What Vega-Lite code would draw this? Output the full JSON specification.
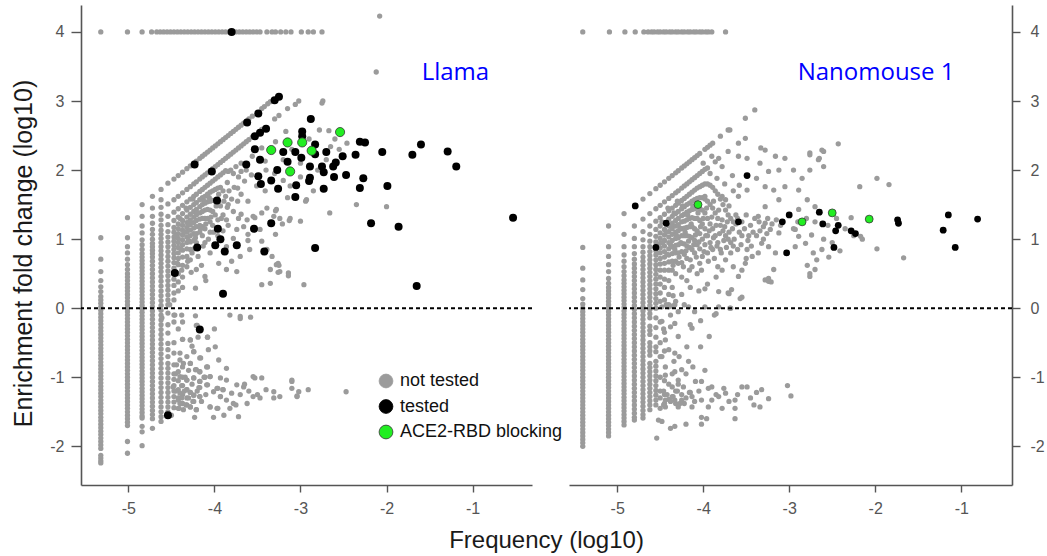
{
"$schema": "https://vega.github.io/schema/vega-lite/v6.json",
"padding": {"left": 11, "top": 5, "right": 5, "bottom": 5},
"spacing": 37,
"bounds": "flush",
"resolve": {"scale": {"fill": "independent", "stroke": "independent"}},
"datasets": {
"ref": [{"y": 0}],
"lab": [{"p": "L", "x": -1.20, "y": 3.30, "t": "Llama"}, {"p": "N", "x": -1.99, "y": 3.31, "t": "Nanomouse 1"}],
"hr": [
{"p": "L", "y": 4, "x": [-5.32,-5.01,-4.84,-4.73,-4.67,-4.63,-4.59,-4.55,-4.51,-4.47,-4.43,-4.39,-4.35,-4.31,-4.27,-4.23,-4.19,-4.15,-4.11,-4.07,-4.03,-3.99,-3.95,-3.91,-3.87,-3.83,-3.75,-3.71,-3.67,-3.63,-3.59,-3.55,-3.51,-3.47,-3.39,-3.33,-3.29,-3.23,-3.17,-3.11,-2.99,-2.91,-2.85,-2.75]},
{"p": "N", "y": 4, "x": [-5.40,-5.09,-4.91,-4.79,-4.69,-4.64,-4.60,-4.57,-4.53,-4.50,-4.46,-4.43,-4.39,-4.36,-4.32,-4.29,-4.25,-4.22,-4.18,-4.15,-4.11,-4.08,-4.04,-4.01,-3.97,-3.94,-3.90,-3.74]}
],
"vc": [
{"p":"L","x":-5.32,"y":[1.02,0.71,0.53,0.40,0.31,0.24,0.17,0.12,0.07,0.02,-0.03,-0.08,-0.13,-0.18,-0.23,-0.28,-0.33,-0.38,-0.43,-0.48,-0.53,-0.58,-0.63,-0.68,-0.73,-0.78,-0.83,-0.88,-0.93,-0.98,-1.03,-1.08,-1.13,-1.18,-1.23,-1.28,-1.33,-1.38,-1.43,-1.48,-1.53,-1.58,-1.63,-1.68,-1.73,-1.78,-1.83,-1.88,-1.93,-1.98,-2.03,-2.13,-2.17,-2.21,-2.24]},
{"p":"L","x":-5.01,"y":[1.31,1.02,0.89,0.80,0.71,0.63,0.56,0.50,0.45,0.40,0.35,0.30,0.25,0.20,0.15,0.10,0.05,0.0,-0.05,-0.10,-0.15,-0.20,-0.25,-0.30,-0.35,-0.40,-0.45,-0.50,-0.55,-0.60,-0.65,-0.70,-0.75,-0.80,-0.85,-0.90,-0.95,-1.00,-1.05,-1.10,-1.15,-1.20,-1.25,-1.30,-1.35,-1.40,-1.45,-1.50,-1.55,-1.60,-1.65,-1.70,-1.93,-2.10]},
{"p":"L","x":-4.84,"y":[1.50,1.33,1.19,1.09,0.99,0.92,0.85,0.79,0.74,0.69,0.64,0.59,0.54,0.49,0.44,0.39,0.34,0.29,0.24,0.19,0.14,0.09,0.04,-0.01,-0.06,-0.11,-0.16,-0.21,-0.26,-0.31,-0.36,-0.41,-0.46,-0.51,-0.56,-0.61,-0.66,-0.71,-0.76,-0.81,-0.86,-0.91,-0.96,-1.01,-1.06,-1.11,-1.16,-1.21,-1.26,-1.31,-1.36,-1.41,-1.46,-1.51,-1.56,-1.59,-1.71,-1.79,-1.99]},
{"p":"L","x":-4.72,"y":[1.62,1.45,1.33,1.23,1.14,1.07,1.00,0.94,0.89,0.84,0.79,0.74,0.68,0.62,0.56,0.50,0.44,0.38,0.32,0.26,0.20,0.14,0.08,0.02,-0.04,-0.10,-0.16,-0.22,-0.28,-0.34,-0.40,-0.46,-0.52,-0.58,-0.64,-0.70,-0.76,-0.82,-0.88,-0.94,-1.00,-1.06,-1.12,-1.18,-1.24,-1.30,-1.36,-1.42,-1.48,-1.54,-1.60,-1.74]},
{"p":"L","x":-4.62,"y":[1.72,1.57,1.46,1.36,1.28,1.20,1.13,1.07,1.01,0.95,0.89,0.83,0.77,0.71,0.65,0.59,0.53,0.46,0.39,0.32,0.25,0.18,0.11,0.04,-0.03,-0.10,-0.17,-0.24,-0.31,-0.38,-0.45,-0.52,-0.59,-0.66,-0.73,-0.80,-0.87,-0.94,-1.01,-1.08,-1.15,-1.22,-1.29,-1.36,-1.43,-1.50,-1.57,-1.64]},
{"p":"L","x":-4.54,"y":[1.81,1.51,1.33,1.21,1.11,1.03,0.96,0.89,0.82,0.75,0.68,0.61,0.54,0.47,0.40,0.33,0.26,0.19,0.12,0.05,-0.07,-0.24,-0.36,-0.51,-0.60,-0.70,-0.80,-0.87,-0.94,-1.01,-1.08,-1.15,-1.22,-1.29,-1.36,-1.43,-1.50]},
{"p":"L","x":-4.47,"y":[1.87,1.57,1.39,1.27,1.17,1.10,1.03,0.97,0.91,0.85,0.79,0.73,0.66,0.58,0.50,0.42,0.33,0.22,0.12,-0.10,-0.20,-0.50,-0.65,-0.82,-0.95,-1.03,-1.12,-1.20,-1.28,-1.36,-1.44]},
{"p":"L","x":-4.42,"y":[1.92,1.62,1.44,1.32,1.22,1.15,1.08,1.01,0.95,0.88,0.80,0.72,0.63,0.50,0.38,0.25,-0.30,-0.92,-1.05,-1.18,-1.30,-1.45]},
{"p":"L","x":-4.37,"y":[1.97,1.67,1.49,1.37,1.27,1.20,1.13,1.06,0.99,0.92,0.84,0.74,0.62,0.45,0.30,-0.20,-0.45,-0.85,-1.00,-1.12,-1.25,-1.38]},
{"p":"L","x":-4.32,"y":[2.02,1.72,1.54,1.42,1.32,1.24,1.17,1.10,1.03,0.95,0.86,0.75,0.60,-0.70,-1.04,-1.18,-1.30,-1.40]},
{"p":"L","x":-4.28,"y":[2.06,1.76,1.58,1.46,1.36,1.28,1.21,1.13,1.05,0.96,0.85,0.70,-0.46,-0.80,-1.22,-1.43]},
{"p":"L","x":-4.24,"y":[2.10,1.80,1.62,1.50,1.40,1.32,1.24,1.16,1.08,0.98,0.86,-0.63,-1.01,-1.26,-1.35]},
{"p":"L","x":-4.21,"y":[2.13,1.83,1.65,1.53,1.43,1.35,1.27,1.18,1.08,0.95,0.56,-0.25,-0.89,-1.47]},
{"p":"L","x":-4.17,"y":[2.17,1.87,1.69,1.57,1.47,1.38,1.29,1.20,1.10,-0.72,-0.92,-1.06,-1.15,-1.28]},
{"p":"L","x":-4.14,"y":[2.20,1.90,1.72,1.60,1.50,1.40,1.30,1.18,1.05]},
{"p":"L","x":-4.11,"y":[2.23,1.93,1.75,1.62,1.52,1.42,1.30,1.15,0.95,0.46,-1.00]},
{"p":"L","x":-4.08,"y":[2.26,1.96,1.78,1.65,1.54,1.43,1.30,-0.42,-0.85,-1.11]},
{"p":"L","x":-4.05,"y":[2.29,1.99,1.81,1.68,1.55,1.42,1.25,1.10,-0.99,-1.43]},
{"p":"L","x":-4.02,"y":[2.32,2.02,1.84,1.70,1.56,1.40,1.20]},
{"p":"L","x":-3.99,"y":[2.35,2.05,1.87,1.72,1.55,1.35,-0.56]},
{"p":"L","x":-3.96,"y":[2.38,2.08,1.90,1.74,1.52,1.28,1.05,-1.16,-1.45]},
{"p":"L","x":-3.93,"y":[2.41,2.11,1.93,1.75,1.48,-1.01,-1.28]},
{"p":"L","x":-3.90,"y":[2.44,2.14,1.96,1.70,1.35,1.12,-1.18]},
{"p":"L","x":-3.87,"y":[2.47,2.17,1.99,1.62]},
{"p":"L","x":-3.84,"y":[2.50,2.20,1.98,1.50,1.20]},
{"p":"L","x":-3.81,"y":[2.53,2.23,2.00]},
{"p":"L","x":-3.78,"y":[2.56,2.26,1.95,1.40]},
{"p":"L","x":-3.75,"y":[2.59,2.29,2.05]},
{"p":"L","x":-3.72,"y":[2.62,2.32,1.90,1.30]},
{"p":"L","x":-3.69,"y":[2.65,2.35,2.10]},
{"p":"L","x":-3.66,"y":[2.68,2.38]},
{"p":"L","x":-3.63,"y":[2.71,2.41,2.00]},
{"p":"L","x":-3.60,"y":[2.74,2.44]},
{"p":"L","x":-3.56,"y":[2.78,2.48,2.20]},
{"p":"N","x":-5.40,"y":[0.88,0.58,0.41,0.27,0.14,0.06,0.0,-0.05,-0.10,-0.15,-0.20,-0.25,-0.30,-0.35,-0.40,-0.45,-0.50,-0.55,-0.60,-0.65,-0.70,-0.75,-0.80,-0.85,-0.90,-0.95,-1.00,-1.05,-1.10,-1.15,-1.20,-1.25,-1.30,-1.35,-1.40,-1.45,-1.50,-1.55,-1.60,-1.65,-1.70,-1.75,-1.80,-1.85,-1.90,-1.95,-2.00]},
{"p":"N","x":-5.10,"y":[1.19,0.89,0.75,0.63,0.53,0.43,0.36,0.30,0.25,0.20,0.15,0.10,0.05,0.0,-0.05,-0.10,-0.15,-0.20,-0.25,-0.30,-0.35,-0.40,-0.45,-0.50,-0.55,-0.60,-0.65,-0.70,-0.75,-0.80,-0.85,-0.90,-0.95,-1.00,-1.05,-1.10,-1.15,-1.20,-1.25,-1.30,-1.35,-1.40,-1.45,-1.50,-1.55,-1.60,-1.65,-1.70,-1.75,-1.80,-1.85]},
{"p":"N","x":-4.92,"y":[1.37,1.07,0.89,0.77,0.68,0.60,0.53,0.47,0.41,0.36,0.31,0.26,0.21,0.16,0.11,0.06,0.01,-0.04,-0.09,-0.14,-0.19,-0.24,-0.29,-0.34,-0.39,-0.44,-0.49,-0.54,-0.59,-0.64,-0.69,-0.74,-0.79,-0.84,-0.89,-0.94,-0.99,-1.04,-1.09,-1.14,-1.19,-1.24,-1.29,-1.34,-1.39,-1.44,-1.49,-1.54,-1.59,-1.64,-1.69]},
{"p":"N","x":-4.80,"y":[1.19,1.01,0.89,0.79,0.71,0.64,0.58,0.52,0.46,0.40,0.34,0.28,0.22,0.16,0.10,0.04,-0.02,-0.08,-0.14,-0.20,-0.26,-0.32,-0.38,-0.44,-0.50,-0.56,-0.62,-0.68,-0.74,-0.80,-0.86,-0.92,-0.98,-1.04,-1.10,-1.16,-1.22,-1.28,-1.34,-1.40,-1.46,-1.52,-1.58,-1.62]},
{"p":"N","x":-4.70,"y":[1.58,1.29,1.11,0.99,0.89,0.81,0.74,0.68,0.62,0.56,0.50,0.44,0.38,0.32,0.26,0.20,0.14,0.08,0.02,-0.04,-0.10,-0.16,-0.22,-0.28,-0.34,-0.40,-0.46,-0.52,-0.58,-0.64,-0.70,-0.76,-0.82,-0.88,-0.94,-1.00,-1.06,-1.12,-1.18,-1.24,-1.30,-1.36,-1.42,-1.48,-1.54,-1.59]},
{"p":"N","x":-4.62,"y":[1.66,1.37,1.19,1.07,0.97,0.89,0.82,0.76,0.70,0.64,0.58,0.52,0.46,0.40,0.34,0.28,0.22,0.16,0.10,0.04,-0.02,-0.08,-0.14,-0.26,-0.32,-0.38,-0.50,-0.56,-0.62,-0.68,-0.80,-0.86,-0.92,-0.98,-1.04,-1.10,-1.16,-1.22,-1.28,-1.34,-1.40,-1.47]},
{"p":"N","x":-4.55,"y":[1.73,1.44,1.26,1.14,1.04,0.96,0.89,0.83,0.77,0.70,0.63,0.56,0.49,0.42,0.35,0.28,0.21,0.14,0.07,0.0,-0.14,-0.28,-0.42,-0.56,-0.63,-0.77,-0.84,-0.91,-0.98,-1.05,-1.12,-1.19,-1.26,-1.33,-1.40]},
{"p":"N","x":-4.50,"y":[1.78,1.49,1.31,1.19,1.09,1.01,0.94,0.87,0.80,0.72,0.64,0.55,0.45,0.35,0.22,0.10,-0.20,-0.50,-0.70,-1.00,-1.20,-1.30,-1.45]},
{"p":"N","x":-4.45,"y":[1.83,1.54,1.36,1.24,1.14,1.06,0.98,0.90,0.82,0.74,0.65,0.55,0.42,0.30,0.12,-0.35,-0.62,-1.05,-1.25,-1.38]},
{"p":"N","x":-4.40,"y":[1.88,1.59,1.41,1.29,1.19,1.11,1.03,0.95,0.86,0.77,0.67,0.55,0.40,0.20,0.05,-0.60,-1.10,-1.32]},
{"p":"N","x":-4.36,"y":[1.92,1.63,1.45,1.33,1.23,1.15,1.07,0.98,0.89,0.79,0.68,0.55,0.30,0.03,-0.95,-1.28]},
{"p":"N","x":-4.32,"y":[1.96,1.67,1.49,1.37,1.27,1.19,1.10,1.01,0.91,0.80,0.68,0.50,0.10,-1.20,-1.38]},
{"p":"N","x":-4.29,"y":[1.99,1.70,1.52,1.40,1.30,1.21,1.12,1.02,0.92,0.80,0.65,-0.05,-1.10]},
{"p":"N","x":-4.25,"y":[2.03,1.74,1.56,1.44,1.34,1.25,1.15,1.05,0.94,0.82,0.66,0.45,-1.25]},
{"p":"N","x":-4.22,"y":[2.06,1.77,1.59,1.47,1.36,1.26,1.16,1.05,0.93,0.78,0.05,-1.38]},
{"p":"N","x":-4.19,"y":[2.09,1.80,1.62,1.50,1.39,1.28,1.17,1.05,0.90,0.72,0.40]},
{"p":"N","x":-4.16,"y":[2.12,1.83,1.65,1.52,1.41,1.30,1.18,1.04,0.88,0.55,-1.22]},
{"p":"N","x":-4.13,"y":[2.15,1.86,1.68,1.55,1.43,1.31,1.18,1.02,0.85,0.60]},
{"p":"N","x":-4.10,"y":[2.18,1.89,1.71,1.57,1.44,1.30,1.15,0.98,0.80,-0.05,-1.35]},
{"p":"N","x":-4.07,"y":[2.21,1.92,1.74,1.59,1.45,1.30,1.12,0.92,0.50]},
{"p":"N","x":-4.04,"y":[2.24,1.95,1.76,1.60,1.44,1.27,1.08,0.86,0.65]},
{"p":"N","x":-4.01,"y":[1.98,1.78,1.60,1.42,1.22,1.00,0.75]},
{"p":"N","x":-3.98,"y":[2.30,2.01,1.80,1.58,1.38,1.15,0.92,0.28]},
{"p":"N","x":-3.95,"y":[2.33,2.03,1.80,1.55,1.30,1.05,0.80]},
{"p":"N","x":-3.92,"y":[2.36,1.78,1.50,1.22,0.95]},
{"p":"N","x":-3.89,"y":[2.39,1.75,1.45,1.15,0.85]},
{"p":"N","x":-3.86,"y":[2.12,1.70,1.38,1.05]},
{"p":"N","x":-3.83,"y":[1.65,1.30,0.95,0.60]},
{"p":"N","x":-3.80,"y":[2.49,1.58,1.20,0.85]},
{"p":"N","x":-3.77,"y":[1.50,1.12]},
{"p":"N","x":-3.74,"y":[1.42,1.05,0.70]},
{"p":"N","x":-3.71,"y":[2.58,1.35,1.00]},
{"p":"N","x":-3.68,"y":[1.30,0.95]},
{"p":"N","x":-3.65,"y":[1.25,0.90]},
{"p":"N","x":-3.62,"y":[1.22]}
],
"sc": [
{"p":"L","s":"n","x":-4.61,"y":-0.14},{"p":"L","s":"n","x":-4.46,"y":-0.10},{"p":"L","s":"n","x":-4.38,"y":-0.10},{"p":"L","s":"n","x":-4.22,"y":-0.11},{"p":"L","s":"n","x":-3.82,"y":-0.10},{"p":"L","s":"n","x":-3.70,"y":-0.15},{"p":"L","s":"n","x":-3.58,"y":-0.13},{"p":"L","s":"n","x":-4.28,"y":-0.46},{"p":"L","s":"n","x":-4.19,"y":-0.42},{"p":"L","s":"n","x":-4.08,"y":-0.42},
{"p":"L","s":"n","x":-4.07,"y":-0.60},{"p":"L","s":"n","x":-4.24,"y":-0.63},{"p":"L","s":"n","x":-4.16,"y":-0.72},{"p":"L","s":"n","x":-4.40,"y":-0.65},{"p":"L","s":"n","x":-4.44,"y":-0.82},{"p":"L","s":"n","x":-4.28,"y":-0.80},{"p":"L","s":"n","x":-4.22,"y":-0.89},{"p":"L","s":"n","x":-4.09,"y":-0.85},{"p":"L","s":"n","x":-3.86,"y":-0.87},{"p":"L","s":"n","x":-4.40,"y":-0.99},
{"p":"L","s":"n","x":-4.32,"y":-1.04},{"p":"L","s":"n","x":-4.24,"y":-1.01},{"p":"L","s":"n","x":-4.17,"y":-1.06},{"p":"L","s":"n","x":-4.09,"y":-1.11},{"p":"L","s":"n","x":-3.86,"y":-1.04},{"p":"L","s":"n","x":-3.74,"y":-1.11},{"p":"L","s":"n","x":-3.66,"y":-1.14},{"p":"L","s":"n","x":-3.53,"y":-1.01},{"p":"L","s":"n","x":-3.45,"y":-1.01},{"p":"L","s":"n","x":-3.31,"y":-1.21},
{"p":"L","s":"n","x":-3.24,"y":-1.28},{"p":"L","s":"n","x":-3.31,"y":-1.30},{"p":"L","s":"n","x":-3.10,"y":-1.06},{"p":"L","s":"n","x":-3.10,"y":-1.16},{"p":"L","s":"n","x":-3.02,"y":-1.21},{"p":"L","s":"n","x":-3.04,"y":-1.28},{"p":"L","s":"n","x":-2.91,"y":-1.18},{"p":"L","s":"n","x":-3.55,"y":-1.28},{"p":"L","s":"n","x":-3.47,"y":-1.30},{"p":"L","s":"n","x":-4.40,"y":-1.23},
{"p":"L","s":"n","x":-4.32,"y":-1.18},{"p":"L","s":"n","x":-4.24,"y":-1.26},{"p":"L","s":"n","x":-4.17,"y":-1.28},{"p":"L","s":"n","x":-4.01,"y":-1.21},{"p":"L","s":"n","x":-3.93,"y":-1.28},{"p":"L","s":"n","x":-3.86,"y":-1.33},{"p":"L","s":"n","x":-3.78,"y":-1.38},{"p":"L","s":"n","x":-4.40,"y":-1.38},{"p":"L","s":"n","x":-4.28,"y":-1.43},{"p":"L","s":"n","x":-4.21,"y":-1.47},
{"p":"L","s":"n","x":-4.05,"y":-1.43},{"p":"L","s":"n","x":-3.97,"y":-1.45},{"p":"L","s":"n","x":-3.82,"y":-1.45},{"p":"L","s":"n","x":-4.23,"y":-1.58},{"p":"L","s":"n","x":-4.01,"y":-1.58},{"p":"L","s":"n","x":-3.89,"y":-1.55},{"p":"L","s":"n","x":-3.72,"y":-1.57},{"p":"L","s":"n","x":-4.50,"y":-1.55},{"p":"L","s":"n","x":-4.17,"y":-0.92},{"p":"L","s":"n","x":-4.05,"y":-0.99},
{"p":"L","s":"n","x":-3.97,"y":-1.16},{"p":"L","s":"n","x":-3.90,"y":-1.18},{"p":"L","s":"n","x":-3.80,"y":-1.23},{"p":"L","s":"n","x":-4.48,"y":-1.14},{"p":"L","s":"n","x":-4.42,"y":-1.33},{"p":"L","s":"n","x":-4.36,"y":-1.47},{"p":"L","s":"n","x":-4.45,"y":-0.95},{"p":"L","s":"n","x":-4.38,"y":-1.12},{"p":"L","s":"n","x":-4.35,"y":-1.20},{"p":"L","s":"n","x":-4.30,"y":-1.30},
{"p":"L","s":"n","x":-4.26,"y":-1.10},{"p":"L","s":"n","x":-4.20,"y":-1.20},{"p":"L","s":"n","x":-4.15,"y":-1.35},{"p":"L","s":"n","x":-4.12,"y":-1.00},{"p":"L","s":"n","x":-4.10,"y":-1.25},{"p":"L","s":"n","x":-4.30,"y":-0.90},{"p":"L","s":"n","x":-4.34,"y":-1.00},{"p":"L","s":"n","x":-4.25,"y":-1.35},{"p":"L","s":"n","x":-4.18,"y":-1.15},{"p":"L","s":"n","x":-4.38,"y":-1.30},
{"p":"L","s":"n","x":-4.45,"y":-1.20},{"p":"L","s":"n","x":-4.41,"y":-1.45},{"p":"L","s":"n","x":-4.33,"y":-1.40},{"p":"L","s":"n","x":-4.28,"y":-1.22},{"p":"L","s":"n","x":-4.36,"y":-0.80},{"p":"L","s":"n","x":-4.40,"y":-0.75},{"p":"L","s":"n","x":-4.26,"y":-0.55},{"p":"L","s":"n","x":-4.20,"y":-0.25},{"p":"L","s":"n","x":-4.37,"y":-0.45},{"p":"L","s":"n","x":-3.10,"y":-1.04},
{"p":"L","s":"n","x":-2.47,"y":-1.21},{"p":"L","s":"n","x":-3.65,"y":-1.10},{"p":"L","s":"n","x":-3.60,"y":-1.20},{"p":"L","s":"n","x":-3.70,"y":-1.25},{"p":"L","s":"n","x":-3.95,"y":-0.75},{"p":"L","s":"n","x":-4.00,"y":-0.30},{"p":"L","s":"n","x":-3.75,"y":-1.40},{"p":"L","s":"n","x":-3.62,"y":-1.38},{"p":"L","s":"n","x":-3.50,"y":-1.25},{"p":"L","s":"n","x":-3.40,"y":-1.18},
{"p":"L","s":"n","x":-3.55,"y":-0.99},{"p":"L","s":"n","x":-3.04,"y":-1.27},
{"p":"L","s":"n","x":-3.45,"y":0.34},{"p":"L","s":"n","x":-2.96,"y":0.34},{"p":"L","s":"n","x":-3.26,"y":0.52},{"p":"L","s":"n","x":-3.14,"y":0.47},{"p":"L","s":"n","x":-3.06,"y":2.95},{"p":"L","s":"n","x":-3.02,"y":3.00},{"p":"L","s":"n","x":-2.75,"y":2.97},{"p":"L","s":"n","x":-3.17,"y":2.56},
{"p":"L","s":"n","x":-2.78,"y":2.58},{"p":"L","s":"n","x":-2.67,"y":2.57},{"p":"L","s":"n","x":-3.29,"y":2.41},{"p":"L","s":"n","x":-2.46,"y":2.39},{"p":"L","s":"n","x":-2.65,"y":2.34},{"p":"L","s":"n","x":-2.12,"y":3.42},{"p":"L","s":"n","x":-2.08,"y":4.23},{"p":"L","s":"n","x":-2.00,"y":1.47},{"p":"L","s":"n","x":-2.66,"y":1.38},{"p":"L","s":"n","x":-2.94,"y":1.55},
{"p":"L","s":"n","x":-3.00,"y":1.26},{"p":"L","s":"n","x":-3.13,"y":1.27},{"p":"L","s":"n","x":-3.21,"y":1.22},{"p":"L","s":"n","x":-3.29,"y":1.41},{"p":"L","s":"n","x":-3.29,"y":1.07},{"p":"L","s":"n","x":-3.25,"y":0.62},{"p":"L","s":"n","x":-3.35,"y":0.56},{"p":"L","s":"n","x":-3.61,"y":1.07},{"p":"L","s":"n","x":-3.61,"y":0.98},{"p":"L","s":"n","x":-3.53,"y":1.31},
{"p":"L","s":"n","x":-3.41,"y":1.70},{"p":"L","s":"n","x":-3.51,"y":1.77},{"p":"L","s":"n","x":-3.65,"y":1.84},{"p":"L","s":"n","x":-3.73,"y":1.74},{"p":"L","s":"n","x":-3.85,"y":1.82},{"p":"L","s":"n","x":-3.69,"y":1.98},{"p":"L","s":"n","x":-3.57,"y":1.93},{"p":"L","s":"n","x":-3.41,"y":2.13},{"p":"L","s":"n","x":-3.45,"y":2.32},{"p":"L","s":"n","x":-3.12,"y":1.77},
{"p":"L","s":"n","x":-3.73,"y":1.55},{"p":"L","s":"n","x":-3.69,"y":1.36},{"p":"L","s":"n","x":-3.85,"y":1.46},{"p":"L","s":"n","x":-3.69,"y":1.65},{"p":"L","s":"n","x":-3.61,"y":1.55},{"p":"L","s":"n","x":-3.86,"y":0.89},{"p":"L","s":"n","x":-3.78,"y":1.01},{"p":"L","s":"n","x":-3.74,"y":1.14},{"p":"L","s":"n","x":-3.66,"y":1.18},{"p":"L","s":"n","x":-3.62,"y":1.28},
{"p":"L","s":"n","x":-3.55,"y":1.33},{"p":"L","s":"n","x":-3.45,"y":1.38},{"p":"L","s":"n","x":-3.39,"y":1.45},{"p":"L","s":"n","x":-3.28,"y":1.43},{"p":"L","s":"n","x":-3.31,"y":1.33},{"p":"L","s":"n","x":-3.24,"y":1.30},{"p":"L","s":"n","x":-3.12,"y":1.30},{"p":"L","s":"n","x":-3.47,"y":1.14},{"p":"L","s":"n","x":-3.45,"y":0.97},{"p":"L","s":"n","x":-3.39,"y":0.85},
{"p":"L","s":"n","x":-3.33,"y":0.75},{"p":"L","s":"n","x":-3.28,"y":0.63},{"p":"L","s":"n","x":-3.24,"y":0.53},{"p":"L","s":"n","x":-3.14,"y":0.51},{"p":"L","s":"n","x":-3.26,"y":0.65},{"p":"L","s":"n","x":-3.35,"y":0.36},{"p":"L","s":"n","x":-3.59,"y":0.85},{"p":"L","s":"n","x":-3.70,"y":0.75},{"p":"L","s":"n","x":-3.80,"y":0.68},{"p":"L","s":"n","x":-3.86,"y":0.56},
{"p":"L","s":"n","x":-3.74,"y":0.53},{"p":"L","s":"n","x":-4.22,"y":0.29},{"p":"L","s":"n","x":-4.52,"y":0.05},{"p":"L","s":"n","x":-3.70,"y":-0.12},{"p":"L","s":"n","x":-2.74,"y":3.00},{"p":"L","s":"n","x":-2.93,"y":1.57},{"p":"L","s":"n","x":-3.45,"y":2.89},{"p":"L","s":"n","x":-3.42,"y":2.92},{"p":"L","s":"n","x":-3.38,"y":2.96},{"p":"L","s":"n","x":-3.35,"y":2.99},
{"p":"L","s":"n","x":-3.45,"y":2.59},{"p":"L","s":"n","x":-3.30,"y":2.74},{"p":"L","s":"n","x":-3.25,"y":2.79},{"p":"L","s":"n","x":-3.15,"y":2.89},{"p":"L","s":"n","x":-3.20,"y":2.15},{"p":"L","s":"n","x":-3.10,"y":2.30},{"p":"L","s":"n","x":-3.00,"y":2.10},{"p":"L","s":"n","x":-2.90,"y":2.45},{"p":"L","s":"n","x":-2.80,"y":2.00},{"p":"L","s":"n","x":-2.70,"y":2.15},
{"p":"L","s":"n","x":-2.60,"y":2.45},{"p":"L","s":"n","x":-3.30,"y":1.95},{"p":"L","s":"n","x":-3.40,"y":2.00},{"p":"L","s":"n","x":-3.20,"y":1.85},{"p":"L","s":"n","x":-3.00,"y":1.90},{"p":"L","s":"n","x":-2.55,"y":2.30},{"p":"L","s":"n","x":-2.85,"y":1.70},{"p":"L","s":"n","x":-3.15,"y":1.60},{"p":"L","s":"n","x":-2.35,"y":1.50},
{"p":"L","s":"n","x":-4.45,"y":1.05},{"p":"L","s":"n","x":-4.40,"y":1.30},{"p":"L","s":"n","x":-4.39,"y":0.86},{"p":"L","s":"n","x":-4.35,"y":1.10},{"p":"L","s":"n","x":-4.33,"y":1.45},{"p":"L","s":"n","x":-4.30,"y":0.98},{"p":"L","s":"n","x":-4.29,"y":1.25},{"p":"L","s":"n","x":-4.26,"y":0.80},{"p":"L","s":"n","x":-4.25,"y":1.58},{"p":"L","s":"n","x":-4.22,"y":1.02},
{"p":"L","s":"n","x":-4.20,"y":1.38},{"p":"L","s":"n","x":-4.19,"y":0.75},{"p":"L","s":"n","x":-4.16,"y":1.15},{"p":"L","s":"n","x":-4.13,"y":0.90},{"p":"L","s":"n","x":-4.12,"y":1.55},{"p":"L","s":"n","x":-4.10,"y":1.22},{"p":"L","s":"n","x":-4.07,"y":1.00},{"p":"L","s":"n","x":-4.06,"y":1.60},{"p":"L","s":"n","x":-4.04,"y":1.32},{"p":"L","s":"n","x":-4.01,"y":1.10},
{"p":"L","s":"n","x":-3.98,"y":1.48},{"p":"L","s":"n","x":-3.95,"y":1.65},{"p":"L","s":"n","x":-3.92,"y":1.30},{"p":"L","s":"n","x":-3.89,"y":1.55},{"p":"L","s":"n","x":-3.86,"y":1.28},{"p":"L","s":"n","x":-3.83,"y":1.70},{"p":"L","s":"n","x":-3.80,"y":1.58},{"p":"L","s":"n","x":-3.77,"y":1.75},{"p":"L","s":"n","x":-4.43,"y":0.65},{"p":"L","s":"n","x":-4.38,"y":0.55},
{"p":"L","s":"n","x":-4.31,"y":0.68},{"p":"L","s":"n","x":-4.27,"y":0.52},{"p":"L","s":"n","x":-4.15,"y":0.62},{"p":"L","s":"n","x":-4.05,"y":0.80},{"p":"L","s":"n","x":-3.95,"y":0.65},{"p":"L","s":"n","x":-4.10,"y":0.40},
{"p":"L","s":"t","x":-3.80,"y":4.00},{"p":"L","s":"t","x":-3.62,"y":2.69},{"p":"L","s":"t","x":-3.49,"y":2.82},{"p":"L","s":"t","x":-3.30,"y":3.01},{"p":"L","s":"t","x":-3.25,"y":3.06},{"p":"L","s":"t","x":-3.53,"y":2.49},{"p":"L","s":"t","x":-3.47,"y":2.54},{"p":"L","s":"t","x":-3.40,"y":2.60},{"p":"L","s":"t","x":-4.23,"y":2.08},{"p":"L","s":"t","x":-4.03,"y":1.98},
{"p":"L","s":"t","x":-3.63,"y":2.08},{"p":"L","s":"t","x":-3.53,"y":2.30},{"p":"L","s":"t","x":-3.47,"y":2.15},{"p":"L","s":"t","x":-3.49,"y":1.91},{"p":"L","s":"t","x":-3.46,"y":1.80},{"p":"L","s":"t","x":-3.34,"y":1.85},{"p":"L","s":"t","x":-3.26,"y":1.73},{"p":"L","s":"t","x":-3.27,"y":2.00},{"p":"L","s":"t","x":-3.15,"y":2.12},{"p":"L","s":"t","x":-3.06,"y":2.26},
{"p":"L","s":"t","x":-3.20,"y":2.26},{"p":"L","s":"t","x":-3.05,"y":1.78},{"p":"L","s":"t","x":-3.06,"y":1.61},{"p":"L","s":"t","x":-2.98,"y":2.56},{"p":"L","s":"t","x":-2.98,"y":2.49},{"p":"L","s":"t","x":-2.88,"y":2.74},{"p":"L","s":"t","x":-2.99,"y":2.18},{"p":"L","s":"t","x":-2.83,"y":2.37},{"p":"L","s":"t","x":-2.83,"y":2.23},{"p":"L","s":"t","x":-2.89,"y":2.05},
{"p":"L","s":"t","x":-2.90,"y":1.84},{"p":"L","s":"t","x":-2.89,"y":1.89},{"p":"L","s":"t","x":-2.70,"y":2.26},{"p":"L","s":"t","x":-2.75,"y":2.05},{"p":"L","s":"t","x":-2.73,"y":1.97},{"p":"L","s":"t","x":-2.73,"y":1.73},{"p":"L","s":"t","x":-2.61,"y":1.90},{"p":"L","s":"t","x":-2.62,"y":2.05},{"p":"L","s":"t","x":-2.59,"y":2.11},{"p":"L","s":"t","x":-2.51,"y":2.20},
{"p":"L","s":"t","x":-2.47,"y":1.93},{"p":"L","s":"t","x":-2.36,"y":2.22},{"p":"L","s":"t","x":-2.31,"y":2.41},{"p":"L","s":"t","x":-2.25,"y":2.40},{"p":"L","s":"t","x":-2.27,"y":1.88},{"p":"L","s":"t","x":-2.31,"y":1.74},{"p":"L","s":"t","x":-2.05,"y":2.26},{"p":"L","s":"t","x":-1.99,"y":1.77},{"p":"L","s":"t","x":-2.18,"y":1.23},{"p":"L","s":"t","x":-1.86,"y":1.18},
{"p":"L","s":"t","x":-1.70,"y":2.22},{"p":"L","s":"t","x":-1.60,"y":2.37},{"p":"L","s":"t","x":-1.29,"y":2.27},{"p":"L","s":"t","x":-1.19,"y":2.05},{"p":"L","s":"t","x":-0.53,"y":1.31},{"p":"L","s":"t","x":-3.97,"y":1.56},{"p":"L","s":"t","x":-3.96,"y":1.15},{"p":"L","s":"t","x":-3.93,"y":1.00},{"p":"L","s":"t","x":-3.99,"y":0.91},{"p":"L","s":"t","x":-3.88,"y":0.82},
{"p":"L","s":"t","x":-3.74,"y":0.91},{"p":"L","s":"t","x":-3.54,"y":1.15},{"p":"L","s":"t","x":-3.34,"y":1.23},{"p":"L","s":"t","x":-3.42,"y":0.82},{"p":"L","s":"t","x":-2.83,"y":0.87},{"p":"L","s":"t","x":-4.20,"y":0.88},{"p":"L","s":"t","x":-4.46,"y":0.51},{"p":"L","s":"t","x":-3.90,"y":0.21},{"p":"L","s":"t","x":-1.65,"y":0.32},{"p":"L","s":"t","x":-4.17,"y":-0.31},
{"p":"L","s":"t","x":-4.54,"y":-1.55},
{"p":"L","s":"b","x":-3.34,"y":2.29},{"p":"L","s":"b","x":-3.15,"y":2.40},{"p":"L","s":"b","x":-2.98,"y":2.40},{"p":"L","s":"b","x":-2.87,"y":2.28},{"p":"L","s":"b","x":-3.12,"y":1.98},{"p":"L","s":"b","x":-2.54,"y":2.55},
{"p":"N","s":"n","x":-4.48,"y":0.02},{"p":"N","s":"n","x":-4.40,"y":0.02},{"p":"N","s":"n","x":-4.33,"y":0.05},{"p":"N","s":"n","x":-4.17,"y":0.02},{"p":"N","s":"n","x":-3.98,"y":0.02},{"p":"N","s":"n","x":-3.87,"y":-0.10},{"p":"N","s":"n","x":-3.69,"y":0.00},{"p":"N","s":"n","x":-4.48,"y":-0.19},{"p":"N","s":"n","x":-4.38,"y":-0.27},{"p":"N","s":"n","x":-4.33,"y":-0.22},
{"p":"N","s":"n","x":-4.15,"y":-0.24},{"p":"N","s":"n","x":-4.03,"y":-0.18},{"p":"N","s":"n","x":-3.93,"y":-0.41},{"p":"N","s":"n","x":-4.03,"y":-0.56},{"p":"N","s":"n","x":-4.13,"y":-0.29},{"p":"N","s":"n","x":-4.29,"y":-0.41},{"p":"N","s":"n","x":-4.19,"y":-0.56},{"p":"N","s":"n","x":-4.44,"y":-0.46},{"p":"N","s":"n","x":-4.48,"y":-0.70},{"p":"N","s":"n","x":-4.33,"y":-0.65},
{"p":"N","s":"n","x":-4.34,"y":-0.77},{"p":"N","s":"n","x":-4.17,"y":-0.77},{"p":"N","s":"n","x":-4.44,"y":-0.85},{"p":"N","s":"n","x":-4.44,"y":-0.97},{"p":"N","s":"n","x":-4.33,"y":-0.92},{"p":"N","s":"n","x":-4.25,"y":-0.89},{"p":"N","s":"n","x":-4.29,"y":-1.04},{"p":"N","s":"n","x":-4.36,"y":-1.14},{"p":"N","s":"n","x":-4.23,"y":-1.14},{"p":"N","s":"n","x":-4.09,"y":-1.06},
{"p":"N","s":"n","x":-4.02,"y":-1.06},{"p":"N","s":"n","x":-3.94,"y":-1.16},{"p":"N","s":"n","x":-3.90,"y":-1.14},{"p":"N","s":"n","x":-3.76,"y":-1.16},{"p":"N","s":"n","x":-3.49,"y":-1.14},{"p":"N","s":"n","x":-3.55,"y":-1.14},{"p":"N","s":"n","x":-3.32,"y":-1.18},{"p":"N","s":"n","x":-3.24,"y":-1.31},{"p":"N","s":"n","x":-3.34,"y":-1.43},{"p":"N","s":"n","x":-3.41,"y":-1.40},
{"p":"N","s":"n","x":-3.63,"y":-1.33},{"p":"N","s":"n","x":-3.74,"y":-1.23},{"p":"N","s":"n","x":-3.82,"y":-1.28},{"p":"N","s":"n","x":-3.90,"y":-1.33},{"p":"N","s":"n","x":-4.02,"y":-1.33},{"p":"N","s":"n","x":-4.13,"y":-1.28},{"p":"N","s":"n","x":-4.25,"y":-1.33},{"p":"N","s":"n","x":-4.33,"y":-1.33},{"p":"N","s":"n","x":-4.44,"y":-1.33},{"p":"N","s":"n","x":-4.44,"y":-1.43},
{"p":"N","s":"n","x":-4.29,"y":-1.43},{"p":"N","s":"n","x":-4.13,"y":-1.43},{"p":"N","s":"n","x":-3.94,"y":-1.43},{"p":"N","s":"n","x":-3.78,"y":-1.45},{"p":"N","s":"n","x":-3.63,"y":-1.45},{"p":"N","s":"n","x":-4.52,"y":-1.62},{"p":"N","s":"n","x":-4.48,"y":-1.64},{"p":"N","s":"n","x":-4.38,"y":-1.74},{"p":"N","s":"n","x":-4.33,"y":-1.71},{"p":"N","s":"n","x":-4.20,"y":-1.68},
{"p":"N","s":"n","x":-4.02,"y":-1.58},{"p":"N","s":"n","x":-3.96,"y":-1.60},{"p":"N","s":"n","x":-4.02,"y":-1.68},{"p":"N","s":"n","x":-3.63,"y":-1.60},{"p":"N","s":"n","x":-4.54,"y":-1.88},{"p":"N","s":"n","x":-3.02,"y":-1.12},{"p":"N","s":"n","x":-2.98,"y":-1.27},{"p":"N","s":"n","x":-4.46,"y":-1.20},{"p":"N","s":"n","x":-4.42,"y":-1.25},{"p":"N","s":"n","x":-4.38,"y":-1.35},
{"p":"N","s":"n","x":-4.35,"y":-1.28},{"p":"N","s":"n","x":-4.30,"y":-1.20},{"p":"N","s":"n","x":-4.27,"y":-1.38},{"p":"N","s":"n","x":-4.20,"y":-1.30},{"p":"N","s":"n","x":-4.15,"y":-1.22},{"p":"N","s":"n","x":-4.46,"y":-1.40},{"p":"N","s":"n","x":-4.46,"y":-0.30},{"p":"N","s":"n","x":-4.38,"y":-0.10},{"p":"N","s":"n","x":-4.43,"y":0.05},{"p":"N","s":"n","x":-4.05,"y":-1.20},
{"p":"N","s":"n","x":-3.85,"y":-1.25},{"p":"N","s":"n","x":-3.70,"y":-1.35},{"p":"N","s":"n","x":-3.60,"y":-1.25},{"p":"N","s":"n","x":-3.45,"y":-1.30},{"p":"N","s":"n","x":-3.38,"y":-1.22},{"p":"N","s":"n","x":-4.20,"y":-0.95},{"p":"N","s":"n","x":-4.12,"y":-0.85},{"p":"N","s":"n","x":-4.28,"y":-0.70},{"p":"N","s":"n","x":-3.98,"y":-0.90},{"p":"N","s":"n","x":-3.68,"y":0.00},
{"p":"N","s":"n","x":-3.85,"y":-0.08},{"p":"N","s":"n","x":-3.55,"y":0.16},{"p":"N","s":"n","x":-3.70,"y":0.21},{"p":"N","s":"n","x":-3.24,"y":0.43},{"p":"N","s":"n","x":-3.21,"y":0.38},
{"p":"N","s":"n","x":-3.69,"y":2.58},{"p":"N","s":"n","x":-3.59,"y":2.39},{"p":"N","s":"n","x":-3.51,"y":2.46},{"p":"N","s":"n","x":-3.82,"y":2.17},{"p":"N","s":"n","x":-3.71,"y":2.27},{"p":"N","s":"n","x":-3.59,"y":2.20},{"p":"N","s":"n","x":-3.49,"y":2.17},{"p":"N","s":"n","x":-3.28,"y":2.29},{"p":"N","s":"n","x":-3.16,"y":2.20},{"p":"N","s":"n","x":-3.05,"y":2.17},
{"p":"N","s":"n","x":-2.76,"y":2.25},{"p":"N","s":"n","x":-2.62,"y":2.29},{"p":"N","s":"n","x":-3.34,"y":2.10},{"p":"N","s":"n","x":-3.24,"y":1.98},{"p":"N","s":"n","x":-3.12,"y":2.00},{"p":"N","s":"n","x":-2.95,"y":2.00},{"p":"N","s":"n","x":-2.85,"y":1.88},{"p":"N","s":"n","x":-2.76,"y":2.00},{"p":"N","s":"n","x":-2.66,"y":2.15},{"p":"N","s":"n","x":-3.38,"y":1.88},
{"p":"N","s":"n","x":-3.28,"y":1.76},{"p":"N","s":"n","x":-3.18,"y":1.71},{"p":"N","s":"n","x":-3.05,"y":1.76},{"p":"N","s":"n","x":-2.89,"y":1.71},{"p":"N","s":"n","x":-2.79,"y":1.57},{"p":"N","s":"n","x":-2.89,"y":1.43},{"p":"N","s":"n","x":-2.70,"y":1.47},{"p":"N","s":"n","x":-3.49,"y":1.71},{"p":"N","s":"n","x":-3.59,"y":1.62},{"p":"N","s":"n","x":-3.74,"y":1.57},
{"p":"N","s":"n","x":-3.28,"y":1.47},{"p":"N","s":"n","x":-3.12,"y":1.57},{"p":"N","s":"n","x":-3.36,"y":1.33},{"p":"N","s":"n","x":-3.28,"y":1.23},{"p":"N","s":"n","x":-3.22,"y":1.14},{"p":"N","s":"n","x":-3.12,"y":1.09},{"p":"N","s":"n","x":-2.93,"y":1.14},{"p":"N","s":"n","x":-2.89,"y":1.04},{"p":"N","s":"n","x":-2.74,"y":1.06},{"p":"N","s":"n","x":-3.32,"y":0.94},
{"p":"N","s":"n","x":-3.24,"y":0.89},{"p":"N","s":"n","x":-3.16,"y":0.80},{"p":"N","s":"n","x":-3.36,"y":0.80},{"p":"N","s":"n","x":-3.49,"y":0.85},{"p":"N","s":"n","x":-3.43,"y":0.75},{"p":"N","s":"n","x":-3.18,"y":0.56},{"p":"N","s":"n","x":-3.28,"y":0.41},{"p":"N","s":"n","x":-3.24,"y":0.39},{"p":"N","s":"n","x":-2.93,"y":0.89},{"p":"N","s":"n","x":-2.81,"y":0.94},
{"p":"N","s":"n","x":-2.72,"y":0.80},{"p":"N","s":"n","x":-2.62,"y":0.85},{"p":"N","s":"n","x":-2.70,"y":0.56},{"p":"N","s":"n","x":-2.76,"y":0.46},{"p":"N","s":"n","x":-3.51,"y":0.65},{"p":"N","s":"n","x":-3.59,"y":0.46},{"p":"N","s":"n","x":-3.67,"y":0.27},{"p":"N","s":"n","x":-3.82,"y":0.24},{"p":"N","s":"n","x":-3.71,"y":0.22},{"p":"N","s":"n","x":-3.57,"y":0.14},
{"p":"N","s":"n","x":-3.82,"y":0.02},{"p":"N","s":"n","x":-3.33,"y":2.32},{"p":"N","s":"n","x":-2.76,"y":2.22},{"p":"N","s":"n","x":-2.65,"y":2.17},{"p":"N","s":"n","x":-2.60,"y":2.27},{"p":"N","s":"n","x":-2.60,"y":2.05},{"p":"N","s":"n","x":-2.43,"y":2.38},{"p":"N","s":"n","x":-2.18,"y":1.76},{"p":"N","s":"n","x":-1.98,"y":1.88},{"p":"N","s":"n","x":-1.84,"y":1.79},
{"p":"N","s":"n","x":-1.98,"y":0.86},{"p":"N","s":"n","x":-1.67,"y":0.73},{"p":"N","s":"n","x":-2.28,"y":1.31},{"p":"N","s":"n","x":-2.17,"y":1.04},{"p":"N","s":"n","x":-2.15,"y":1.00},{"p":"N","s":"n","x":-2.41,"y":0.83},{"p":"N","s":"n","x":-2.54,"y":0.74},{"p":"N","s":"n","x":-2.68,"y":0.70},{"p":"N","s":"n","x":-2.76,"y":0.50},{"p":"N","s":"n","x":-2.79,"y":0.62},
{"p":"N","s":"n","x":-3.51,"y":2.75},{"p":"N","s":"n","x":-3.40,"y":2.87},{"p":"N","s":"n","x":-3.60,"y":1.30},{"p":"N","s":"n","x":-3.55,"y":1.25},{"p":"N","s":"n","x":-3.50,"y":1.35},{"p":"N","s":"n","x":-3.45,"y":1.20},{"p":"N","s":"n","x":-3.40,"y":1.30},{"p":"N","s":"n","x":-3.35,"y":1.25},{"p":"N","s":"n","x":-3.30,"y":1.18},{"p":"N","s":"n","x":-3.25,"y":1.30},
{"p":"N","s":"n","x":-3.20,"y":1.22},{"p":"N","s":"n","x":-3.15,"y":1.28},{"p":"N","s":"n","x":-3.10,"y":1.20},{"p":"N","s":"n","x":-2.95,"y":1.15},{"p":"N","s":"n","x":-2.90,"y":1.25},{"p":"N","s":"n","x":-3.55,"y":1.05},{"p":"N","s":"n","x":-3.48,"y":0.98},{"p":"N","s":"n","x":-3.42,"y":1.10},{"p":"N","s":"n","x":-3.60,"y":0.85},{"p":"N","s":"n","x":-3.50,"y":0.72},
{"p":"N","s":"n","x":-3.65,"y":0.60},{"p":"N","s":"n","x":-3.55,"y":0.55},{"p":"N","s":"n","x":-2.80,"y":1.30},{"p":"N","s":"n","x":-2.70,"y":1.25},{"p":"N","s":"n","x":-2.55,"y":1.20},{"p":"N","s":"n","x":-2.45,"y":1.30},{"p":"N","s":"n","x":-2.35,"y":1.15},{"p":"N","s":"n","x":-2.25,"y":1.05},{"p":"N","s":"n","x":-2.60,"y":1.00},{"p":"N","s":"n","x":-2.50,"y":0.95},
{"p":"N","s":"n","x":-4.48,"y":1.25},{"p":"N","s":"n","x":-4.47,"y":0.95},{"p":"N","s":"n","x":-4.43,"y":1.10},{"p":"N","s":"n","x":-4.42,"y":0.78},{"p":"N","s":"n","x":-4.41,"y":1.45},{"p":"N","s":"n","x":-4.38,"y":0.92},{"p":"N","s":"n","x":-4.37,"y":1.18},{"p":"N","s":"n","x":-4.35,"y":0.62},{"p":"N","s":"n","x":-4.34,"y":1.38},{"p":"N","s":"n","x":-4.33,"y":0.85},
{"p":"N","s":"n","x":-4.31,"y":1.05},{"p":"N","s":"n","x":-4.30,"y":1.55},{"p":"N","s":"n","x":-4.28,"y":0.74},{"p":"N","s":"n","x":-4.27,"y":1.16},{"p":"N","s":"n","x":-4.26,"y":0.95},{"p":"N","s":"n","x":-4.24,"y":1.48},{"p":"N","s":"n","x":-4.23,"y":0.60},{"p":"N","s":"n","x":-4.21,"y":1.10},{"p":"N","s":"n","x":-4.20,"y":0.83},{"p":"N","s":"n","x":-4.18,"y":1.35},
{"p":"N","s":"n","x":-4.17,"y":0.97},{"p":"N","s":"n","x":-4.15,"y":0.70},{"p":"N","s":"n","x":-4.14,"y":1.22},{"p":"N","s":"n","x":-4.12,"y":1.48},{"p":"N","s":"n","x":-4.11,"y":0.92},{"p":"N","s":"n","x":-4.09,"y":1.06},{"p":"N","s":"n","x":-4.08,"y":0.74},{"p":"N","s":"n","x":-4.06,"y":1.38},{"p":"N","s":"n","x":-4.05,"y":0.96},{"p":"N","s":"n","x":-4.03,"y":1.18},
{"p":"N","s":"n","x":-4.02,"y":0.55},{"p":"N","s":"n","x":-4.00,"y":1.30},{"p":"N","s":"n","x":-3.99,"y":0.82},{"p":"N","s":"n","x":-3.97,"y":1.05},{"p":"N","s":"n","x":-3.96,"y":1.45},{"p":"N","s":"n","x":-3.94,"y":0.68},{"p":"N","s":"n","x":-3.93,"y":1.12},{"p":"N","s":"n","x":-3.91,"y":0.88},{"p":"N","s":"n","x":-3.90,"y":1.32},{"p":"N","s":"n","x":-3.88,"y":1.02},
{"p":"N","s":"n","x":-3.87,"y":0.72},{"p":"N","s":"n","x":-3.85,"y":1.20},{"p":"N","s":"n","x":-3.84,"y":0.90},{"p":"N","s":"n","x":-3.82,"y":1.42},{"p":"N","s":"n","x":-3.81,"y":1.08},{"p":"N","s":"n","x":-3.79,"y":0.80},{"p":"N","s":"n","x":-3.78,"y":1.28},{"p":"N","s":"n","x":-3.76,"y":0.98},{"p":"N","s":"n","x":-3.75,"y":1.18},{"p":"N","s":"n","x":-3.73,"y":0.88},
{"p":"N","s":"n","x":-3.72,"y":1.25},{"p":"N","s":"n","x":-3.70,"y":1.10},{"p":"N","s":"n","x":-3.68,"y":0.80},{"p":"N","s":"n","x":-3.66,"y":1.15},{"p":"N","s":"n","x":-3.64,"y":1.00},{"p":"N","s":"n","x":-3.62,"y":1.35},{"p":"N","s":"n","x":-3.58,"y":1.10},{"p":"N","s":"n","x":-3.56,"y":0.92},{"p":"N","s":"n","x":-3.52,"y":1.15},{"p":"N","s":"n","x":-3.47,"y":1.05},
{"p":"N","s":"n","x":-3.44,"y":0.90},{"p":"N","s":"n","x":-3.38,"y":1.05},{"p":"N","s":"n","x":-3.34,"y":1.12},{"p":"N","s":"n","x":-3.30,"y":1.00},{"p":"N","s":"n","x":-3.26,"y":1.08},{"p":"N","s":"n","x":-3.85,"y":0.45},{"p":"N","s":"n","x":-3.95,"y":0.35},{"p":"N","s":"n","x":-4.05,"y":0.25},{"p":"N","s":"n","x":-3.78,"y":0.55},{"p":"N","s":"n","x":-4.15,"y":0.30},
{"p":"N","s":"n","x":-4.25,"y":0.20},{"p":"N","s":"n","x":-4.35,"y":0.18},{"p":"N","s":"n","x":-3.88,"y":1.55},{"p":"N","s":"n","x":-3.98,"y":1.62},{"p":"N","s":"n","x":-3.78,"y":1.62},{"p":"N","s":"n","x":-3.70,"y":1.48},{"p":"N","s":"n","x":-3.65,"y":1.70},{"p":"N","s":"n","x":-3.92,"y":1.95},{"p":"N","s":"n","x":-3.84,"y":1.88},{"p":"N","s":"n","x":-3.75,"y":1.80},
{"p":"N","s":"n","x":-3.66,"y":1.92},{"p":"N","s":"n","x":-3.58,"y":1.78},{"p":"N","s":"n","x":-4.00,"y":2.10},{"p":"N","s":"n","x":-3.90,"y":2.20},{"p":"N","s":"n","x":-3.78,"y":2.05},
{"p":"N","s":"t","x":-4.79,"y":1.48},{"p":"N","s":"t","x":-4.43,"y":1.23},{"p":"N","s":"t","x":-4.55,"y":0.88},{"p":"N","s":"t","x":-3.49,"y":1.92},{"p":"N","s":"t","x":-3.59,"y":1.25},{"p":"N","s":"t","x":-3.08,"y":1.25},{"p":"N","s":"t","x":-3.00,"y":1.35},{"p":"N","s":"t","x":-3.03,"y":0.80},{"p":"N","s":"t","x":-2.65,"y":1.39},{"p":"N","s":"t","x":-2.61,"y":1.22},
{"p":"N","s":"t","x":-2.43,"y":1.20},{"p":"N","s":"t","x":-2.46,"y":1.12},{"p":"N","s":"t","x":-2.28,"y":1.12},{"p":"N","s":"t","x":-2.23,"y":1.08},{"p":"N","s":"t","x":-2.48,"y":0.88},{"p":"N","s":"t","x":-1.74,"y":1.28},{"p":"N","s":"t","x":-1.73,"y":1.23},{"p":"N","s":"t","x":-1.21,"y":1.13},{"p":"N","s":"t","x":-1.15,"y":1.35},{"p":"N","s":"t","x":-1.07,"y":0.88},
{"p":"N","s":"t","x":-0.81,"y":1.29},
{"p":"N","s":"b","x":-4.06,"y":1.50},{"p":"N","s":"b","x":-2.85,"y":1.25},{"p":"N","s":"b","x":-2.50,"y":1.38},{"p":"N","s":"b","x":-2.07,"y":1.29}
]
},
"hconcat": [
{
"width": 451, "height": 480,
"layer": [
{"data": {"name": "vc"}, "transform": [{"filter": "datum.p == 'L'"}, {"flatten": ["y"]}],
 "mark": {"type": "circle", "size": 28, "color": "#9b9b9b", "opacity": 1},
 "encoding": {
  "x": {"field": "x", "type": "quantitative", "scale": {"domain": [-5.55, -0.31], "nice": false, "zero": false},
        "axis": {"values": [-5, -4, -3, -2, -1], "labelExpr": "'' + datum.value", "title": "Frequency (log10)", "titleX": 465, "titleY": 62, "titleBaseline": "alphabetic", "titleAlign": "center", "titleFontSize": 24}},
  "y": {"field": "y", "type": "quantitative", "scale": {"domain": [-2.56, 4.39], "nice": false, "zero": false},
        "axis": {"values": [-2, -1, 0, 1, 2, 3, 4], "labelExpr": "'' + datum.value", "title": "Enrichment fold change (log10)", "titleX": -50, "titleY": 248, "titleAngle": -90, "titleBaseline": "alphabetic", "titleAlign": "center", "titleFontSize": 25, "tickSize": 10, "labelPadding": 7}}
 }},
{"data": {"name": "hr"}, "transform": [{"filter": "datum.p == 'L'"}, {"flatten": ["x"]}],
 "mark": {"type": "circle", "size": 28, "color": "#9b9b9b", "opacity": 1},
 "encoding": {
  "x": {"field": "x", "type": "quantitative", "scale": {"domain": [-5.55, -0.31], "nice": false, "zero": false}},
  "y": {"field": "y", "type": "quantitative", "scale": {"domain": [-2.56, 4.39], "nice": false, "zero": false}}
 }},
{"data": {"name": "sc"}, "transform": [{"filter": "datum.p == 'L' && datum.s == 'n'"}],
 "mark": {"type": "circle", "size": 28, "opacity": 1, "strokeWidth": 0},
 "encoding": {
  "x": {"field": "x", "type": "quantitative", "scale": {"domain": [-5.55, -0.31], "nice": false, "zero": false}},
  "y": {"field": "y", "type": "quantitative", "scale": {"domain": [-2.56, 4.39], "nice": false, "zero": false}},
  "fill": {"field": "s", "type": "nominal", "scale": {"domain": ["n", "t", "b"], "range": ["#9b9b9b", "#000000", "#22ee22"]},
           "legend": {"title": null, "orient": "none", "legendX": 296, "legendY": 367, "labelExpr": "datum.value == 'n' ? 'not tested' : datum.value == 't' ? 'tested' : 'ACE2-RBD blocking'", "labelFontSize": 18, "labelFont": "Liberation Sans", "labelColor": "#111111", "labelLimit": 400, "symbolSize": 190, "symbolType": "circle", "rowPadding": 7.5, "labelOffset": 5, "padding": 0, "symbolStrokeWidth": 0.8, "symbolOpacity": 1}},
  "stroke": {"field": "s", "type": "nominal", "scale": {"domain": ["n", "t", "b"], "range": ["#9b9b9b", "#000000", "#333333"]},
           "legend": {"title": null, "orient": "none", "legendX": 296, "legendY": 367, "labelExpr": "datum.value == 'n' ? 'not tested' : datum.value == 't' ? 'tested' : 'ACE2-RBD blocking'", "labelFontSize": 18, "labelFont": "Liberation Sans", "labelColor": "#111111", "labelLimit": 400, "symbolSize": 190, "symbolType": "circle", "rowPadding": 7.5, "labelOffset": 5, "padding": 0, "symbolStrokeWidth": 0.8, "symbolOpacity": 1}}
 }},
{"data": {"name": "ref"},
 "mark": {"type": "rule", "color": "#000000", "strokeDash": [4, 3], "strokeWidth": 2},
 "encoding": {"y": {"field": "y", "type": "quantitative", "scale": {"domain": [-2.56, 4.39], "nice": false, "zero": false}}}},
{"data": {"name": "sc"}, "transform": [{"filter": "datum.p == 'L' && datum.s == 't'"}],
 "mark": {"type": "circle", "size": 64, "opacity": 1, "strokeWidth": 0},
 "encoding": {
  "x": {"field": "x", "type": "quantitative", "scale": {"domain": [-5.55, -0.31], "nice": false, "zero": false}},
  "y": {"field": "y", "type": "quantitative", "scale": {"domain": [-2.56, 4.39], "nice": false, "zero": false}},
  "fill": {"field": "s", "type": "nominal", "scale": {"domain": ["n", "t", "b"], "range": ["#9b9b9b", "#000000", "#22ee22"]}},
  "stroke": {"field": "s", "type": "nominal", "scale": {"domain": ["n", "t", "b"], "range": ["#9b9b9b", "#000000", "#333333"]}}
 }},
{"data": {"name": "sc"}, "transform": [{"filter": "datum.p == 'L' && datum.s == 'b'"}],
 "mark": {"type": "circle", "size": 84, "opacity": 1, "strokeWidth": 0.8},
 "encoding": {
  "x": {"field": "x", "type": "quantitative", "scale": {"domain": [-5.55, -0.31], "nice": false, "zero": false}},
  "y": {"field": "y", "type": "quantitative", "scale": {"domain": [-2.56, 4.39], "nice": false, "zero": false}},
  "fill": {"field": "s", "type": "nominal", "scale": {"domain": ["n", "t", "b"], "range": ["#9b9b9b", "#000000", "#22ee22"]}},
  "stroke": {"field": "s", "type": "nominal", "scale": {"domain": ["n", "t", "b"], "range": ["#9b9b9b", "#000000", "#333333"]}}
 }},
{"data": {"name": "lab"}, "transform": [{"filter": "datum.p == 'L'"}],
 "mark": {"type": "text", "font": "Open Sans", "fontSize": 24, "color": "#0000ff", "align": "center", "baseline": "alphabetic"},
 "encoding": {
  "x": {"field": "x", "type": "quantitative", "scale": {"domain": [-5.55, -0.31], "nice": false, "zero": false}},
  "y": {"field": "y", "type": "quantitative", "scale": {"domain": [-2.56, 4.39], "nice": false, "zero": false}},
  "text": {"field": "t"}
 }}
]
},
{
"width": 443, "height": 480,
"layer": [
{"data": {"name": "vc"}, "transform": [{"filter": "datum.p == 'N'"}, {"flatten": ["y"]}],
 "mark": {"type": "circle", "size": 28, "color": "#9b9b9b", "opacity": 1},
 "encoding": {
  "x": {"field": "x", "type": "quantitative", "scale": {"domain": [-5.56, -0.41], "nice": false, "zero": false},
        "axis": {"values": [-5, -4, -3, -2, -1], "labelExpr": "'' + datum.value", "title": null}},
  "y": {"field": "y", "type": "quantitative", "scale": {"domain": [-2.56, 4.39], "nice": false, "zero": false},
        "axis": {"orient": "right", "values": [-2, -1, 0, 1, 2, 3, 4], "labelExpr": "'' + datum.value", "title": null, "tickSize": 8, "labelPadding": 10}}
 }},
{"data": {"name": "hr"}, "transform": [{"filter": "datum.p == 'N'"}, {"flatten": ["x"]}],
 "mark": {"type": "circle", "size": 28, "color": "#9b9b9b", "opacity": 1},
 "encoding": {
  "x": {"field": "x", "type": "quantitative", "scale": {"domain": [-5.56, -0.41], "nice": false, "zero": false}},
  "y": {"field": "y", "type": "quantitative", "scale": {"domain": [-2.56, 4.39], "nice": false, "zero": false}}
 }},
{"data": {"name": "sc"}, "transform": [{"filter": "datum.p == 'N' && datum.s == 'n'"}],
 "mark": {"type": "circle", "size": 28, "color": "#9b9b9b", "opacity": 1},
 "encoding": {
  "x": {"field": "x", "type": "quantitative", "scale": {"domain": [-5.56, -0.41], "nice": false, "zero": false}},
  "y": {"field": "y", "type": "quantitative", "scale": {"domain": [-2.56, 4.39], "nice": false, "zero": false}}
 }},
{"data": {"name": "ref"},
 "mark": {"type": "rule", "color": "#000000", "strokeDash": [4, 3], "strokeWidth": 2},
 "encoding": {"y": {"field": "y", "type": "quantitative", "scale": {"domain": [-2.56, 4.39], "nice": false, "zero": false}}}},
{"data": {"name": "sc"}, "transform": [{"filter": "datum.p == 'N' && datum.s == 't'"}],
 "mark": {"type": "circle", "size": 46, "color": "#000000", "opacity": 1},
 "encoding": {
  "x": {"field": "x", "type": "quantitative", "scale": {"domain": [-5.56, -0.41], "nice": false, "zero": false}},
  "y": {"field": "y", "type": "quantitative", "scale": {"domain": [-2.56, 4.39], "nice": false, "zero": false}}
 }},
{"data": {"name": "sc"}, "transform": [{"filter": "datum.p == 'N' && datum.s == 'b'"}],
 "mark": {"type": "circle", "size": 62, "fill": "#22ee22", "stroke": "#333333", "strokeWidth": 0.8, "opacity": 1},
 "encoding": {
  "x": {"field": "x", "type": "quantitative", "scale": {"domain": [-5.56, -0.41], "nice": false, "zero": false}},
  "y": {"field": "y", "type": "quantitative", "scale": {"domain": [-2.56, 4.39], "nice": false, "zero": false}}
 }},
{"data": {"name": "lab"}, "transform": [{"filter": "datum.p == 'N'"}],
 "mark": {"type": "text", "font": "Open Sans", "fontSize": 24, "color": "#0000ff", "align": "center", "baseline": "alphabetic"},
 "encoding": {
  "x": {"field": "x", "type": "quantitative", "scale": {"domain": [-5.56, -0.41], "nice": false, "zero": false}},
  "y": {"field": "y", "type": "quantitative", "scale": {"domain": [-2.56, 4.39], "nice": false, "zero": false}},
  "text": {"field": "t"}
 }}
]
}
],
"config": {
 "view": {"stroke": null},
 "axis": {"grid": false, "domainColor": "#555555", "domainWidth": 1.6, "tickColor": "#555555", "tickWidth": 1.4, "labelColor": "#555555", "labelFont": "Liberation Sans", "labelFontSize": 16, "titleFont": "Liberation Sans", "titleFontWeight": "normal", "titleColor": "#1a1a1a"},
 "axisX": {"tickSize": 7, "labelPadding": 8},
 "axisY": {"tickSize": 9, "labelPadding": 8}
}
}
